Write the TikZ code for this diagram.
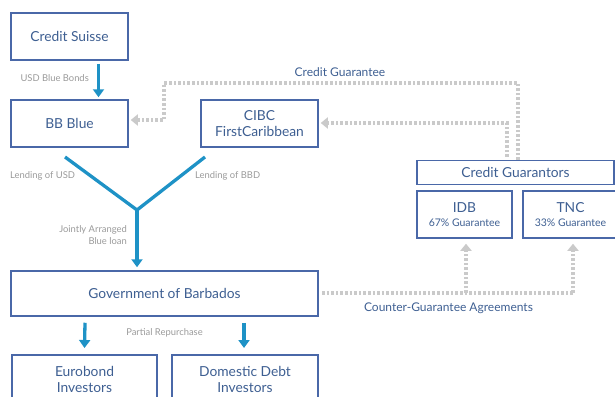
\documentclass[tikz,border=0pt]{standalone}
\usepackage{fontspec}
\setmainfont{Lato}
\usetikzlibrary{arrows.meta,calc}
\definecolor{boxc}{HTML}{4A68A8}
\definecolor{txtc}{HTML}{3E5F92}
\definecolor{arrc}{HTML}{1E92C6}
\definecolor{dashc}{HTML}{CACACA}
\definecolor{lblc}{HTML}{9A9A9A}
\tikzset{
  box/.style={draw=boxc, line width=1.5pt, fill=white, text=txtc, font=\fontsize{13.8}{16}\selectfont, align=center, inner sep=0pt},
  flow/.style={draw=arrc, line width=3.3pt, -{Triangle[length=8pt,width=11pt]}},
  yline/.style={draw=arrc, line width=3.3pt},
  guar/.style={draw=dashc, line width=3.2pt, dash pattern=on 2.6pt off 2pt, -{Triangle[length=7pt,width=11pt]}},
  guarnt/.style={draw=dashc, line width=3.2pt, dash pattern=on 2.6pt off 2pt},
  lbl/.style={text=lblc, font=\fontsize{9.4}{12}\selectfont, inner sep=0pt},
  blbl/.style={text=txtc, font=\fontsize{12}{14}\selectfont, inner sep=0pt}
}
\begin{document}
\begin{tikzpicture}[x=1pt,y=-1pt]
\useasboundingbox (0,0) rectangle (615,396);
% boxes
\node[box, minimum width=117pt, minimum height=47pt] (cs) at (69.5,36.5) {Credit Suisse};
\node[box, minimum width=117pt, minimum height=47pt] (bb) at (69.5,123.5) {BB Blue};
\node[box, minimum width=117pt, minimum height=47pt] (cibc) at (259.5,123.5) {CIBC\\FirstCaribbean};
\node[box, minimum width=307pt, minimum height=45pt] (gov) at (164.5,293.5) {Government of Barbados};
\node[box, minimum width=145pt, minimum height=50pt, anchor=north] (euro) at (84.5,354) {Eurobond\\Investors};
\node[box, minimum width=146pt, minimum height=50pt, anchor=north] (dom) at (245,354) {Domestic Debt\\Investors};
\node[box, minimum width=197pt, minimum height=24pt] (cg) at (515.5,172.5) {Credit Guarantors};
\node[box, minimum width=95pt, minimum height=47pt] (idb) at (464.5,214.5) {IDB\\[-2pt]{\fontsize{10.5}{12}\selectfont 67\% Guarantee}};
\node[box, minimum width=95pt, minimum height=47pt] (tnc) at (570.5,214.5) {TNC\\[-2pt]{\fontsize{10.5}{12}\selectfont 33\% Guarantee}};
% Credit Suisse -> BB Blue
\draw[flow] ($(cs.south)+(29,3)$) -- ($(bb.north)+(29,-2)$);
\node[lbl, anchor=east] (usd) at (89,78) {USD Blue Bonds};
% Y shape
\coordinate (j) at (137,210);
\draw[yline] (65,157) -- (j);
\draw[yline] (205,157) -- (j);
\draw[flow] (j) -- ($(gov.north)+(-27.5,-3)$);
\node[lbl, anchor=west] (lusd) at (10,176) {Lending of USD};
\node[lbl, anchor=west] (lbbd) at (195,176) {Lending of BBD};
\node[lbl, anchor=east, align=right] (jab) at (127,235) {Jointly Arranged\\Blue loan};
% Gov -> investors
\draw[flow] ($(gov.south)+(-79.5,6)$) -- ($(euro.north)+(0,-6)$);
\draw[flow] ($(gov.south)+(79.5,6)$) -- ($(dom.north)+(-1,-6)$);
\node[lbl] (pr) at (164.5,333) {Partial Repurchase};
% Credit guarantee dashed lines
\coordinate (g1) at ($(cg.north)+(2.5,0)$);
\coordinate (g2) at ($(cg.north)+(-8.5,-3)$);
\draw[guar] (g1) |- (164,83) |- ($(bb.east)+(2,-3.5)$);
\draw[guar] (g2) |- ($(cibc.east)+(2,-0.5)$);
\node[blbl] (cgl) at (340,72) {Credit Guarantee};
% Counter guarantee
\coordinate (cs1) at (322,293);
\draw[guarnt] (cs1) -- (573,293);
\draw[guar] (466,293) -- ($(idb.south)+(1.5,5)$);
\draw[guar] (573,293) -- ($(tnc.south)+(2.5,5)$);
\node[blbl] (cga) at (448.5,308) {Counter-Guarantee Agreements};
\end{tikzpicture}
\end{document}
